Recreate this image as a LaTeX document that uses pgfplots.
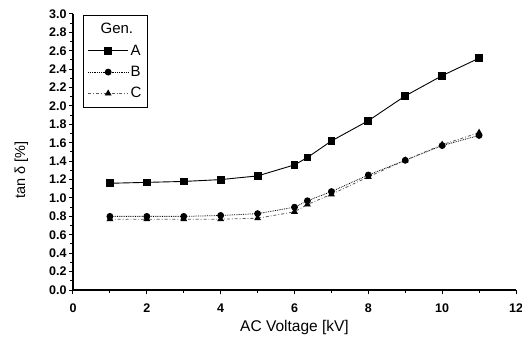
\documentclass[border=0pt]{standalone}
\usepackage{fontspec}
\setmainfont{Liberation Sans}
\usepackage{pgfplots}
\pgfplotsset{compat=1.18}
\pgfplotsset{
  longlegend/.style={legend image code/.code={
    \draw[mark repeat=2,mark phase=2,##1] plot coordinates {(0pt,0pt) (20pt,0pt) (40pt,0pt)};}}
}
\begin{document}
\begin{tikzpicture}
\path[use as bounding box] (-73pt,-50pt) rectangle (449pt,290pt);
\begin{axis}[
  at={(0,0)}, anchor=south west,
  scale only axis, width=443pt, height=276pt,
  xmin=0, xmax=12, ymin=0, ymax=3.0,
  axis x line*=bottom, axis y line*=left,
  axis line style={line width=1.3pt},
  xtick={0,2,...,12}, minor xtick={1,3,...,11},
  ytick={0,0.2,...,3.0}, minor ytick={0.1,0.3,...,2.9},
  tick align=outside,
  major tick length=4pt, minor tick length=2.5pt,
  tick style={line width=1pt, black},
  xticklabel style={font=\fontsize{12.5}{14}\selectfont\bfseries, yshift=-6pt},
  yticklabel style={font=\fontsize{12.5}{14}\selectfont\bfseries, xshift=1pt, /pgf/number format/fixed, /pgf/number format/fixed zerofill, /pgf/number format/precision=1},
  /pgf/number format/assume math mode=true,
  xlabel={AC Voltage [kV]}, ylabel={tan δ [\%]},
  xlabel style={font=\fontsize{15.5}{17}\selectfont, yshift=-1pt},
  ylabel style={font=\fontsize{14.5}{16}\selectfont, yshift=14pt, xshift=-18pt},
  legend style={at={(rel axis cs:0.023,0.997)}, anchor=north west, draw=black, line width=1.1pt,
    font=\fontsize{15}{17}\selectfont, inner xsep=4pt, inner ysep=6pt, row sep=5.5pt,
    /tikz/every even column/.append style={column sep=4pt}},
  legend cell align=left,
  longlegend,
]
\addlegendimage{empty legend}
\addlegendentry{\hspace*{-30pt}Gen.}
\addplot[black, line width=0.9pt, mark=square*, mark size=3.4pt, mark options={solid}] coordinates {
(1,1.16) (2,1.17) (3,1.18) (4,1.20) (5,1.24) (6,1.36) (6.35,1.44) (7,1.62) (8,1.84) (9,2.11) (10,2.33) (11,2.52)};
\addlegendentry{A}
\addplot[black, line width=0.8pt, densely dotted, mark=*, mark size=3pt, mark options={solid}] coordinates {
(1,0.80) (2,0.80) (3,0.80) (4,0.81) (5,0.83) (6,0.90) (6.35,0.97) (7,1.07) (8,1.25) (9,1.41) (10,1.57) (11,1.68)};
\addlegendentry{B}
\addplot[black!65, line width=0.8pt, dash dot, mark=triangle*, mark size=3.2pt, mark options={solid, black}] coordinates {
(1,0.77) (2,0.77) (3,0.77) (4,0.77) (5,0.78) (6,0.85) (6.35,0.93) (7,1.04) (8,1.23) (9,1.41) (10,1.58) (11,1.71)};
\addlegendentry{C}
\end{axis}
\end{tikzpicture}
\end{document}
